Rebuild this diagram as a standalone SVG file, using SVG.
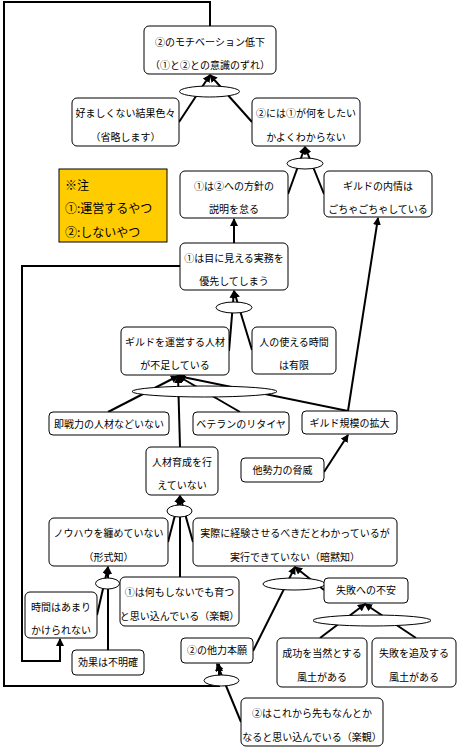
<svg xmlns="http://www.w3.org/2000/svg" width="458" height="752" viewBox="0 0 458 752">
<style>
.box{fill:#fff;stroke:#000;stroke-width:1}
.note{fill:#FFCC00;stroke:#000;stroke-width:1}
.t{font-family:"Noto Sans CJK JP","Noto Sans",sans-serif;font-size:10px;fill:#000;text-anchor:middle}
.nt{font-family:"Noto Sans CJK JP","Noto Sans",sans-serif;font-size:12px;fill:#000}
.c{fill:none;stroke:#000;stroke-width:2}
.ca{fill:none;stroke:#000;stroke-width:2;marker-end:url(#ah)}
.j{fill:#fff;stroke:#000;stroke-width:1}
</style>
<defs>
<marker id="ah" viewBox="0 0 8 8" refX="7" refY="4" markerWidth="8" markerHeight="8" markerUnits="userSpaceOnUse" orient="auto">
<path d="M0,0 L8,4 L0,8 z" fill="#000"/>
</marker>
</defs>
<rect width="458" height="752" fill="#fff"/>
<g id="connectors">
<line class="ca" x1="179" y1="122" x2="210" y2="75"/>
<line class="ca" x1="252" y1="122" x2="210" y2="75"/>
<line class="ca" x1="288" y1="194" x2="305" y2="147"/>
<line class="ca" x1="324" y1="194" x2="305" y2="147"/>
<line class="ca" x1="234" y1="243" x2="234" y2="219"/>
<line class="ca" x1="229" y1="351" x2="234" y2="291"/>
<line class="ca" x1="252" y1="350" x2="234" y2="291"/>
<line class="ca" x1="108" y1="412" x2="178" y2="376"/>
<line class="ca" x1="240" y1="412" x2="178" y2="376"/>
<line class="ca" x1="348" y1="411" x2="178" y2="376"/>
<line class="ca" x1="180" y1="447" x2="178" y2="376"/>
<line class="ca" x1="348" y1="411" x2="378" y2="218"/>
<line class="ca" x1="324" y1="472" x2="348" y2="435"/>
<line class="ca" x1="168" y1="542" x2="180" y2="496"/>
<line class="ca" x1="193" y1="542" x2="180" y2="496"/>
<line class="ca" x1="180" y1="577" x2="180" y2="496"/>
<line class="ca" x1="97" y1="615" x2="108" y2="567"/>
<line class="ca" x1="108" y1="650" x2="108" y2="567"/>
<polyline class="ca" points="180,266 22,266 22,661 60,661 60,639"/>
<line class="ca" x1="253" y1="651" x2="295" y2="567"/>
<line class="ca" x1="324" y1="590" x2="295" y2="567"/>
<line class="ca" x1="320" y1="638" x2="365" y2="604"/>
<line class="ca" x1="416" y1="638" x2="365" y2="604"/>
<line class="ca" x1="241" y1="722" x2="217" y2="664"/>
<polyline class="ca" points="210,26 210,2 4,2 4,686 219,686 219,664"/>
<ellipse class="j" cx="209.5" cy="91.5" rx="30" ry="5.5"/>
<ellipse class="j" cx="305" cy="163.5" rx="18" ry="5.5"/>
<ellipse class="j" cx="234" cy="307.5" rx="18" ry="5.5"/>
<ellipse class="j" cx="204.5" cy="391.5" rx="72.5" ry="5.5"/>
<ellipse class="j" cx="179.5" cy="511" rx="12.5" ry="6"/>
<ellipse class="j" cx="107.5" cy="583.5" rx="12" ry="5.5"/>
<ellipse class="j" cx="294" cy="584" rx="31" ry="6"/>
<ellipse class="j" cx="372" cy="620.5" rx="59" ry="5.5"/>
<ellipse class="j" cx="221.5" cy="680.5" rx="17.5" ry="5.5"/>
</g>
<g id="n_motivation"><rect class="box" x="144" y="26" width="132" height="48" rx="5"/><text class="t" x="210" y="46">②のモチベーション低下</text><text class="t" x="210" y="69">（①と②との意識のずれ）</text></g>
<g id="n_bad"><rect class="box" x="72" y="98" width="107" height="48" rx="5"/><text class="t" x="125.5" y="117">好ましくない結果色々</text><text class="t" x="125.5" y="141">（省略します）</text></g>
<g id="n_unclear"><rect class="box" x="252" y="98" width="108" height="48" rx="5"/><text class="t" x="306" y="117">②には①が何をしたい</text><text class="t" x="306" y="141">かよくわからない</text></g>
<g id="n_note"><rect class="note" x="59" y="169" width="108" height="73"/><text class="nt" x="65" y="190">※注</text><text class="nt" x="65" y="213">①:運営するやつ</text><text class="nt" x="65" y="237">②:しないやつ</text></g>
<g id="n_policy"><rect class="box" x="180" y="171" width="108" height="47" rx="5"/><text class="t" x="234" y="190">①は②への方針の</text><text class="t" x="234" y="213">説明を怠る</text></g>
<g id="n_guild_inner"><rect class="box" x="324" y="171" width="108" height="46" rx="5"/><text class="t" x="378" y="190">ギルドの内情は</text><text class="t" x="378" y="213">ごちゃごちゃしている</text></g>
<g id="n_visible"><rect class="box" x="180" y="243" width="108" height="47" rx="5"/><text class="t" x="234" y="262">①は目に見える実務を</text><text class="t" x="234" y="285">優先してしまう</text></g>
<g id="n_shortage"><rect class="box" x="121" y="327" width="108" height="48" rx="5"/><text class="t" x="175" y="346">ギルドを運営する人材</text><text class="t" x="175" y="369">が不足している</text></g>
<g id="n_time_limited"><rect class="box" x="252" y="327" width="84" height="47" rx="5"/><text class="t" x="294" y="346">人の使える時間</text><text class="t" x="294" y="369">は有限</text></g>
<g id="n_sokusen"><rect class="box" x="49" y="412" width="120" height="23" rx="4"/><text class="t" x="109" y="427.5">即戦力の人材などいない</text></g>
<g id="n_veteran"><rect class="box" x="193" y="412" width="96" height="23" rx="4"/><text class="t" x="241" y="427.5">ベテランのリタイヤ</text></g>
<g id="n_scale"><rect class="box" x="302" y="411" width="95" height="23" rx="4"/><text class="t" x="349.5" y="426.5">ギルド規模の拡大</text></g>
<g id="n_training"><rect class="box" x="146" y="447" width="72" height="48" rx="5"/><text class="t" x="182" y="466">人材育成を行</text><text class="t" x="182" y="489">えていない</text></g>
<g id="n_rival"><rect class="box" x="241" y="458" width="83" height="24" rx="4"/><text class="t" x="282.5" y="474">他勢力の脅威</text></g>
<g id="n_knowhow"><rect class="box" x="49" y="518" width="119" height="48" rx="5"/><text class="t" x="108.5" y="537">ノウハウを纏めていない</text><text class="t" x="108.5" y="561">（形式知）</text></g>
<g id="n_practice"><rect class="box" x="193" y="518" width="204" height="48" rx="5"/><text class="t" x="295" y="537">実際に経験させるべきだとわかっているが</text><text class="t" x="295" y="561">実行できていない（暗黙知）</text></g>
<g id="n_nothing"><rect class="box" x="120" y="577" width="119" height="49" rx="5"/><text class="t" x="179.5" y="596">①は何もしないでも育つ</text><text class="t" x="179.5" y="620">と思い込んでいる（楽観）</text></g>
<g id="n_fear"><rect class="box" x="324" y="578" width="84" height="25" rx="4"/><text class="t" x="366" y="594">失敗への不安</text></g>
<g id="n_notime"><rect class="box" x="25" y="592" width="72" height="46" rx="5"/><text class="t" x="61" y="611">時間はあまり</text><text class="t" x="61" y="634">かけられない</text></g>
<g id="n_effect"><rect class="box" x="72" y="650" width="72" height="25" rx="4"/><text class="t" x="108" y="666">効果は不明確</text></g>
<g id="n_tariki"><rect class="box" x="181" y="638" width="72" height="25" rx="4"/><text class="t" x="217" y="654">②の他力本願</text></g>
<g id="n_success"><rect class="box" x="277" y="638" width="90" height="49" rx="5"/><text class="t" x="322" y="657">成功を当然とする</text><text class="t" x="322" y="681">風土がある</text></g>
<g id="n_blame"><rect class="box" x="372" y="638" width="84" height="49" rx="5"/><text class="t" x="414" y="657">失敗を追及する</text><text class="t" x="414" y="681">風土がある</text></g>
<g id="n_optimism"><rect class="box" x="241" y="698" width="142" height="48" rx="5"/><text class="t" x="312" y="717">②はこれから先もなんとか</text><text class="t" x="312" y="741">なると思い込んでいる（楽観）</text></g>
</svg>
